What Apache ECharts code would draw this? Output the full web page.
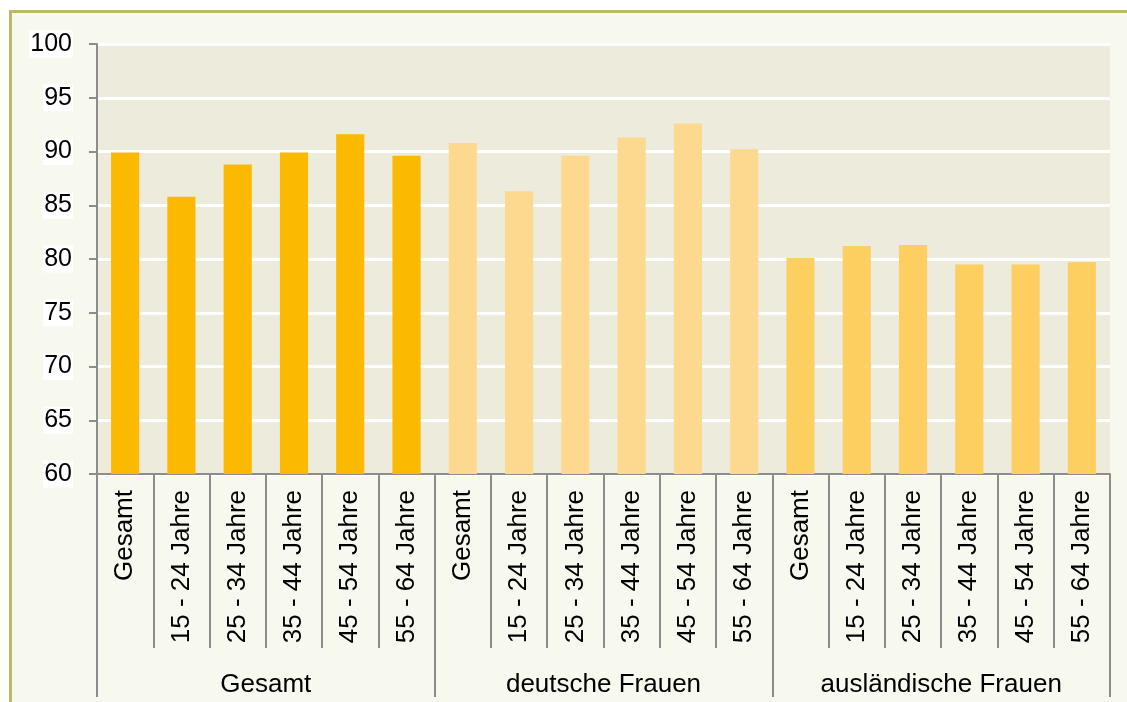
<!DOCTYPE html>
<html>
<head>
<meta charset="utf-8">
<script src="https://cdn.jsdelivr.net/npm/echarts@6/dist/echarts.min.js"></script>
<style>
  html, body { margin: 0; padding: 0; background: #ffffff; overflow: hidden; }
  #panel {
    position: absolute; left: 9px; top: 10px;
    width: 1130px; height: 700px;
    border-top: 3px solid #bdb96a; border-left: 3px solid #bdb96a;
    background: #f8f9ee;
  }
  #main { width: 1115px; height: 689px; }
</style>
</head>
<body>
<div id="panel"><div id="main"></div></div>
<script>
// Gruppen und Altersklassen
var groups = ['Gesamt', 'deutsche Frauen', 'ausländische Frauen'];
var ageClasses = ['Gesamt', '15 - 24 Jahre', '25 - 34 Jahre', '35 - 44 Jahre', '45 - 54 Jahre', '55 - 64 Jahre'];

// Werte (in %)
var gesamtValues = [89.9, 85.8, 88.8, 89.9, 91.6, 89.6];
var deutscheValues = [90.8, 86.3, 89.6, 91.3, 92.6, 90.2];
var auslaendischeValues = [80.1, 81.2, 81.3, 79.5, 79.5, 79.7];

// y-Achse
var yMin = 60, yMax = 100, yStep = 5;

var groupColors = ['#fbb900', '#fdd98f', '#fdce60'];
var groupValues = [gesamtValues, deutscheValues, auslaendischeValues];

var categories = [];
var barData = [];
groupValues.forEach(function (vals, g) {
  vals.forEach(function (v, i) {
    categories.push(ageClasses[i]);
    barData.push({ value: v, itemStyle: { color: groupColors[g] } });
  });
});

var axisGray = '#8c8c8c';
var font = 'Liberation Sans, Arial, sans-serif';

var myChart = echarts.init(document.getElementById('main'));
myChart.setOption({
  animation: false,
  grid: {
    left: 85, right: 17, top: 31, bottom: 228,
    show: true, backgroundColor: '#edebdb', borderWidth: 0
  },
  xAxis: [{
    type: 'category',
    data: categories,
    position: 'bottom',
    axisLine: { show: true, lineStyle: { color: axisGray, width: 2 } },
    axisTick: { show: true, interval: 0, length: 174, lineStyle: { color: axisGray, width: 2 } },
    axisLabel: {
      interval: 0, rotate: 90, margin: 16,
      color: '#000', fontSize: 26, fontFamily: font
    }
  }, {
    type: 'category',
    data: groups,
    position: 'bottom',
    axisLine: { show: false },
    axisTick: { show: true, interval: 0, length: 223, lineStyle: { color: axisGray, width: 2 } },
    axisLabel: {
      interval: 0, margin: 198,
      color: '#000', fontSize: 26, fontFamily: font
    }
  }],
  yAxis: {
    type: 'value',
    min: yMin, max: yMax, interval: yStep,
    axisLine: { show: true, lineStyle: { color: axisGray, width: 2 } },
    axisTick: { show: true, length: 8, lineStyle: { color: axisGray, width: 2 } },
    axisLabel: {
      margin: 24, color: '#000', fontSize: 25, fontFamily: font,
      backgroundColor: '#ffffff', padding: [1, 1]
    },
    splitLine: { lineStyle: { color: '#ffffff', width: 3 } }
  },
  series: [{
    type: 'bar',
    xAxisIndex: 0,
    barWidth: '50%',
    data: barData
  }]
});
</script>
</body>
</html>
